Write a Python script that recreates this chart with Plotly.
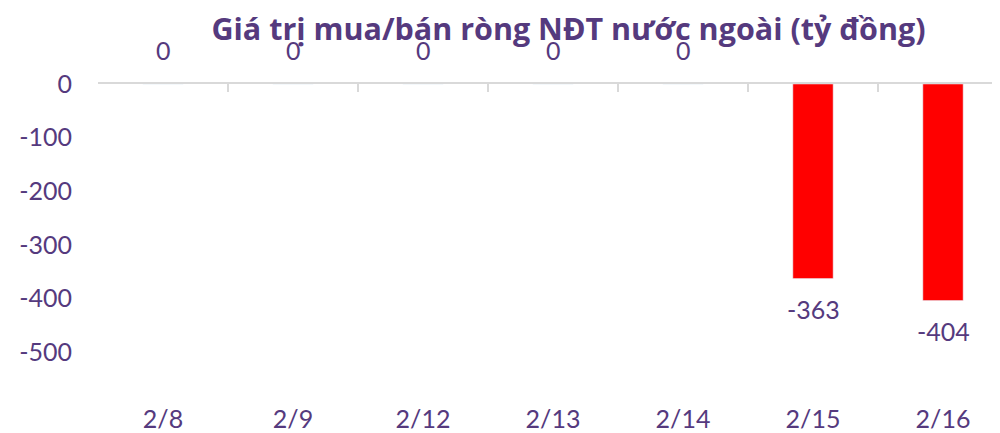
import plotly.graph_objects as go

categories = ["2/8", "2/9", "2/12", "2/13", "2/14", "2/15", "2/16"]
values = [0, 0, 0, 0, 0, -363, -404]
y_ticks = [0, -100, -200, -300, -400, -500]
y_tick_text = ["0", "-100", "-200", "-300", "-400", "-500"]

PURPLE = "#553a7e"
FONT = "Lato"
FS = 25

fig = go.Figure()
fig.add_trace(go.Bar(x=categories, y=values, marker_color="#ff0000", width=0.31,
                     xaxis="x", yaxis="y", hoverinfo="skip"))
# invisible trace for bottom label axis
fig.add_trace(go.Scatter(x=categories, y=values, mode="none", xaxis="x2", yaxis="y",
                         showlegend=False, hoverinfo="skip"))

for c, v in zip(categories, values):
    fig.add_annotation(x=c, y=v, xref="x", yref="y", text=str(v), showarrow=False,
                       yanchor="middle", yshift=34 if v >= 0 else -30,
                       font=dict(size=FS, color=PURPLE, family=FONT))

xr = [-0.5, 6.5]
fig.update_layout(
    width=1000, height=433,
    margin=dict(l=90, r=0, t=76, b=41, autoexpand=False),
    paper_bgcolor="white", plot_bgcolor="white",
    showlegend=False,
    font=dict(family=FONT, color=PURPLE, size=FS),
    title=dict(text="<b>Giá trị mua/bán ròng NĐT nước ngoài (tỷ đồng)</b>",
               x=0.5605, xanchor="center", y=0.951, yanchor="middle",
               font=dict(size=30.5, color=PURPLE, family="Open Sans")),
    xaxis=dict(type="category", categoryorder="array", categoryarray=categories,
               range=xr, side="top", showline=True, linecolor="#d9d9d9", linewidth=2,
               ticks="inside", ticklen=8, tickcolor="#d9d9d9", tickwidth=2,
               tickson="boundaries", showticklabels=False, showgrid=False,
               zeroline=False, fixedrange=True, automargin=False),
    xaxis2=dict(type="category", categoryorder="array", categoryarray=categories,
                range=xr, overlaying="x", side="bottom", anchor="y",
                showline=False, ticks="", showgrid=False, zeroline=False,
                tickfont=dict(size=FS, color=PURPLE, family=FONT),
                ticklabelstandoff=2, automargin=False),
    yaxis=dict(range=[-589.6, 0], tickvals=y_ticks, ticktext=y_tick_text,
               showgrid=False, zeroline=False,
               showline=False, ticks="", ticklabelstandoff=25, automargin=False,
               tickfont=dict(size=FS, color=PURPLE, family=FONT)),
)

fig.write_html("out.html")
